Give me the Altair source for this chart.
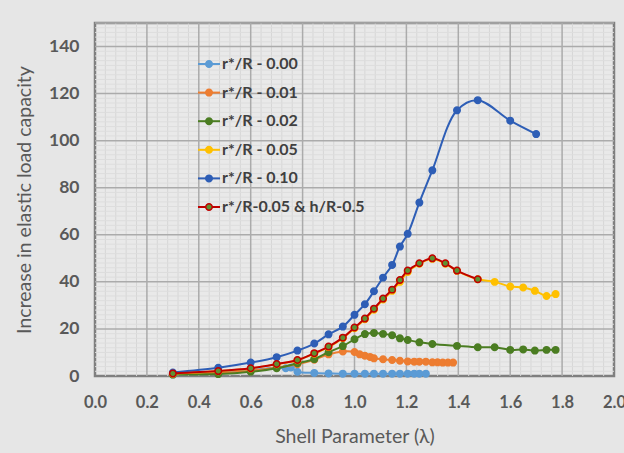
import altair as alt
import pandas as pd
import numpy as np

# ---------------- data ----------------
series_names = ["r*/R - 0.00", "r*/R - 0.01", "r*/R - 0.02",
                "r*/R - 0.05", "r*/R - 0.10", "r*/R-0.05 & h/R-0.5"]

x_000 = [0.30, 0.475, 0.60, 0.70, 0.735, 0.755, 0.78, 0.845, 0.90, 0.955, 1.00,
         1.04, 1.075, 1.11, 1.145, 1.175, 1.205, 1.23, 1.25, 1.275]
y_000 = [0.7, 1.4, 2.5, 3.5, 3.3, 3.6, 1.8, 1.3, 1.1, 1.0, 1.0,
         1.0, 1.0, 1.0, 1.0, 1.0, 1.0, 1.0, 1.0, 1.0]

x_001 = [0.30, 0.475, 0.60, 0.70, 0.78, 0.845, 0.90, 0.955, 1.00, 1.02, 1.04,
         1.06, 1.075, 1.11, 1.145, 1.175, 1.205, 1.23, 1.25, 1.275, 1.30,
         1.32, 1.34, 1.36, 1.38]
y_001 = [0.8, 1.2, 2.2, 3.6, 5.0, 6.9, 9.2, 10.4, 10.2, 9.2, 8.6,
         8.1, 7.5, 7.1, 6.8, 6.5, 6.2, 6.1, 6.1, 6.1, 5.8,
         5.8, 5.7, 5.7, 5.7]

x_002 = [0.30, 0.475, 0.60, 0.70, 0.78, 0.845, 0.90, 0.955, 1.00, 1.04, 1.075,
         1.11, 1.145, 1.175, 1.205, 1.25, 1.30, 1.395, 1.475, 1.54, 1.60,
         1.65, 1.695, 1.74, 1.775]
y_002 = [0.6, 0.8, 1.8, 3.3, 5.4, 7.2, 10.1, 12.7, 15.6, 17.8, 18.3,
         17.9, 17.3, 16.0, 15.3, 14.3, 13.6, 12.8, 12.2, 12.2, 11.1,
         11.3, 10.8, 11.1, 11.1]

x_005 = [0.30, 0.475, 0.60, 0.70, 0.78, 0.845, 0.90, 0.955, 1.00, 1.04, 1.075,
         1.11, 1.145, 1.175, 1.205, 1.25, 1.30, 1.35, 1.395, 1.475, 1.54,
         1.60, 1.65, 1.695, 1.74, 1.775]
y_005 = [1.0, 2.0, 3.2, 5.0, 6.7, 9.5, 12.3, 16.1, 20.3, 24.1, 28.2,
         32.5, 36.2, 40.0, 44.2, 47.7, 49.8, 47.7, 44.7, 41.1, 40.0,
         38.0, 37.6, 36.2, 34.0, 34.8]

x_010 = [0.30, 0.475, 0.60, 0.70, 0.78, 0.845, 0.90, 0.955, 1.00, 1.04, 1.075,
         1.11, 1.145, 1.175, 1.205, 1.25, 1.30, 1.395, 1.475, 1.60, 1.70]
y_010 = [1.5, 3.5, 5.7, 8.0, 10.8, 13.8, 17.7, 21.0, 26.0, 30.5, 36.0,
         41.8, 47.2, 55.0, 60.4, 73.7, 87.4, 112.9, 117.2, 108.5, 102.8]

x_h05 = [0.30, 0.475, 0.60, 0.70, 0.78, 0.845, 0.90, 0.955, 1.00, 1.04, 1.075,
         1.11, 1.145, 1.175, 1.205, 1.25, 1.30, 1.35, 1.395, 1.475]
y_h05 = [1.1, 2.1, 3.3, 5.1, 6.8, 9.7, 12.5, 16.3, 20.6, 24.4, 28.6,
         32.9, 36.7, 40.8, 44.8, 47.9, 50.0, 47.9, 44.8, 41.1]

x_ticks = [0.0, 0.2, 0.4, 0.6, 0.8, 1.0, 1.2, 1.4, 1.6, 1.8, 2.0]
y_ticks = [0, 20, 40, 60, 80, 100, 120, 140]

# ---------------- styles ----------------
stroke_colors = ["#5b9bd5", "#ed7d31", "#4b7d22", "#ffc000", "#2e5eb6", "#c00000"]
fill_colors = ["#5b9bd5", "#ed7d31", "#4b7d22", "#ffc000", "#2e5eb6", "#5e9232"]
FONT = "Lato"
TXT = "#595959"

xs = [x_000, x_001, x_002, x_005, x_010, x_h05]
ys = [y_000, y_001, y_002, y_005, y_010, y_h05]
rows = []
for name, xv, yv in zip(series_names, xs, ys):
    for i, (a, b) in enumerate(zip(xv, yv)):
        rows.append({"series": name, "lam": a, "val": b, "i": i})
df = pd.DataFrame(rows)

xscale = alt.Scale(domain=[0, 2], nice=False, zero=False)
yscale = alt.Scale(domain=[0, 150], nice=False)
stroke_scale = alt.Scale(domain=series_names, range=stroke_colors)
fill_scale = alt.Scale(domain=series_names, range=fill_colors)

W, H = 519, 353

xaxis = alt.Axis(values=x_ticks, format=".1f", grid=False, ticks=False, domain=False,
                 labelFont=FONT, labelFontSize=16.5, labelFontWeight="bold",
                 labelColor=TXT, labelPadding=18, labelFlush=False,
                 title="Shell Parameter (λ)", titleFont=FONT, titleFontSize=19.5,
                 titleFontWeight="normal", titleColor=TXT, titleX=W / 2, titleY=60,
                 titleBaseline="middle", titleAlign="center")
yaxis = alt.Axis(values=y_ticks, grid=False, ticks=False, domain=False,
                 labelFont=FONT, labelFontSize=17.5, labelFontWeight="bold",
                 labelColor=TXT, labelPadding=16,
                 title="Increase in elastic load capacity", titleFont=FONT,
                 titleFontSize=19.5, titleFontWeight="normal", titleColor=TXT,
                 titleX=-71, titleY=H / 2, titleAngle=-90,
                 titleBaseline="middle", titleAlign="center")

# grid lines (style helpers)
minor_x = pd.DataFrame({"g": [v for v in np.round(np.arange(0.04, 2.0, 0.04), 2)
                              if abs(v / 0.2 - round(v / 0.2)) > 1e-6]})
minor_y = pd.DataFrame({"g": [v for v in np.arange(2, 150, 2) if v % 20 != 0]})
major_x = pd.DataFrame({"g": x_ticks[1:-1]})
major_y = pd.DataFrame({"g": y_ticks[1:] + [150]})

base_x = alt.X("lam:Q", scale=xscale, axis=xaxis)
base_y = alt.Y("val:Q", scale=yscale, axis=yaxis)

gx_minor = alt.Chart(minor_x).mark_rule(color="#d6d6d6", strokeWidth=1).encode(
    x=alt.X("g:Q", scale=xscale, axis=xaxis))
gy_minor = alt.Chart(minor_y).mark_rule(color="#dddddd", strokeWidth=1).encode(
    y=alt.Y("g:Q", scale=yscale, axis=yaxis))
gx_major = alt.Chart(major_x).mark_rule(color="#ababab", strokeWidth=1.5).encode(
    x=alt.X("g:Q", scale=xscale, axis=xaxis))
gy_major = alt.Chart(major_y).mark_rule(color="#ababab", strokeWidth=1.5).encode(
    y=alt.Y("g:Q", scale=yscale, axis=yaxis))

layers = [gx_minor, gy_minor, gx_major, gy_major]
for name in series_names:
    sub = alt.Chart(df).transform_filter(alt.datum.series == name)
    line = sub.mark_line(interpolate="catmull-rom", strokeWidth=2).encode(
        x=base_x, y=base_y, order="i:Q",
        stroke=alt.Stroke("series:N", scale=stroke_scale, legend=None))
    pts = sub.mark_point(filled=False, size=42, strokeWidth=1.5, opacity=1).encode(
        x=base_x, y=base_y,
        stroke=alt.Stroke("series:N", scale=stroke_scale, legend=None),
        fill=alt.Fill("series:N", scale=fill_scale, legend=None))
    layers += [line, pts]

main = alt.layer(*layers)

# in-plot legend
leg_df = pd.DataFrame({"series": series_names})
leg_y = alt.Y("series:N", sort=series_names,
              scale=alt.Scale(type="point", domain=series_names, range=[41, 184],
                              padding=0),
              axis=None)
leg_line = alt.Chart(leg_df).mark_rule(strokeWidth=2).encode(
    x=alt.value(103), x2=alt.value(125), y=leg_y,
    stroke=alt.Stroke("series:N", scale=stroke_scale, legend=None))
leg_pt = alt.Chart(leg_df).mark_point(filled=False, size=42, strokeWidth=1.5, opacity=1).encode(
    x=alt.value(114), y=leg_y,
    stroke=alt.Stroke("series:N", scale=stroke_scale, legend=None),
    fill=alt.Fill("series:N", scale=fill_scale, legend=None))
leg_txt = alt.Chart(leg_df).mark_text(align="left", baseline="middle", font=FONT,
                                      fontSize=16, fontWeight="bold",
                                      color="#404040").encode(
    x=alt.value(127), y=leg_y, text="series:N")
legend = alt.layer(leg_line, leg_pt, leg_txt)

chart = alt.layer(main, legend).resolve_scale(y="independent").properties(
    width=W, height=H,
    autosize=alt.AutoSizeParams(type="none"),
    padding={"left": 95, "top": 23, "right": 10, "bottom": 77},
    background="#e6e6e6",
).configure_view(stroke="#7f7f7f", strokeWidth=2.5, fill="#e9e9e9")

chart.save("out.html", embed_options={"renderer": "svg", "actions": False})
